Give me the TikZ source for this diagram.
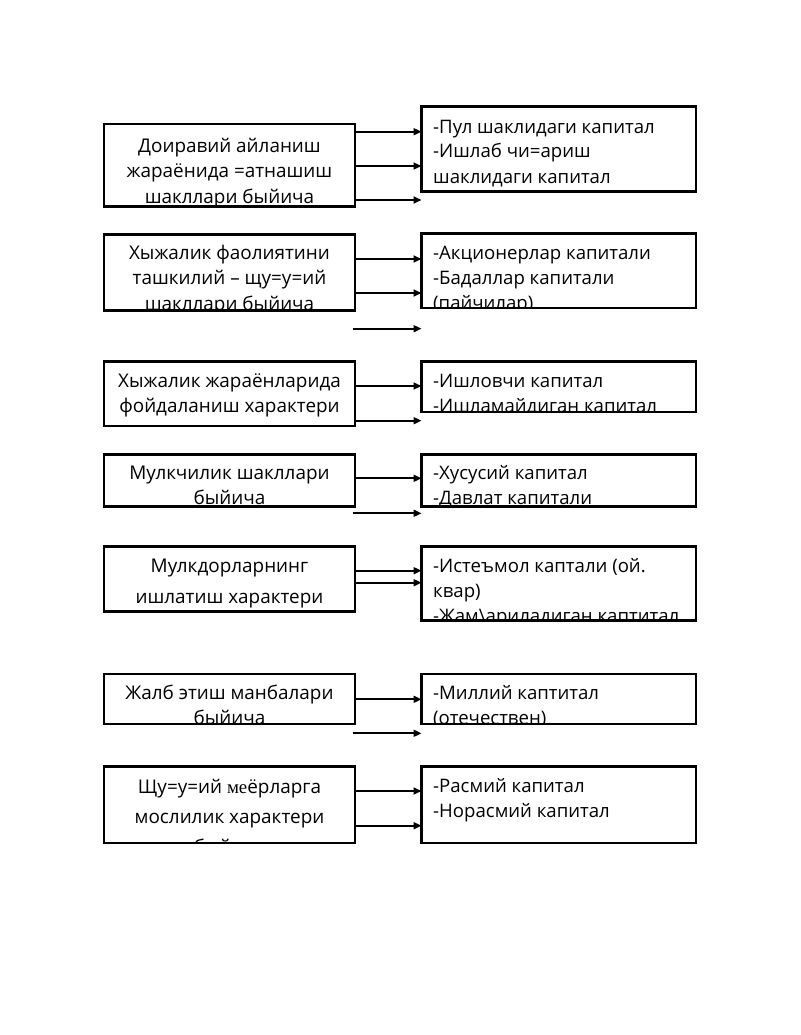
\documentclass[tikz,border=0pt]{standalone}
\usepackage{fontspec}
\setmainfont{Open Sans}
\newfontfamily\serifpart{Liberation Serif}
\usetikzlibrary{arrows.meta}
\tikzset{
  kbox/.style={draw=black, line width=2.6pt, inner sep=0pt, outer sep=0pt, anchor=north west},
  % texts are placed at the baseline of their last line
  ltext/.style={anchor=base, align=center, inner sep=0pt, font=\fontsize{18.9}{25.5}\selectfont},
  rtext/.style={anchor=base west, align=left, inner sep=0pt, font=\fontsize{18.6}{25}\selectfont},
  arr/.style={line width=1.8pt, -{Triangle[length=8pt,width=7pt]}},
}
\begin{document}
\begin{tikzpicture}[x=1pt,y=-1pt]
\useasboundingbox (0,0) rectangle (800,1035);
% block 1
\node [kbox, minimum width=251, minimum height=82.7] (l1) at (104,124) {};
\node [kbox, minimum width=274.5, minimum height=85] (r1) at (421.5,106.7) {};
\begin{scope}
\clip (l1.north west) rectangle (l1.south east);
\node [ltext] (l1t) at (229.5,203) {Доиравий айланиш\\жараёнида =атнашиш\\шакллари быйича};
\end{scope}
\begin{scope}
\clip (r1.north west) rectangle (r1.south east);
\node [rtext] (r1t) at (433,183) {-Пул шаклидаги капитал\\-Ишлаб чи=ариш\\шаклидаги капитал};
\end{scope}
\coordinate (e1) at (r1.west |- 0,200);
\draw [arr] (l1.east |- 0,131.7) -- (r1.west |- 0,131.7);
\draw [arr] (l1.east |- 0,166) -- (r1.west |- 0,166);
\draw [arr] (l1.east |- e1) -- (e1);
% block 2
\node [kbox, minimum width=251, minimum height=76.4] (l2) at (104,234.3) {};
\node [kbox, minimum width=274.5, minimum height=74.7] (r2) at (421.5,233.3) {};
\begin{scope}
\clip (l2.north west) rectangle (l2.south east);
\node [ltext] (l2t) at (229.5,310) {Хыжалик фаолиятини\\ташкилий – щу=у=ий\\шакллари быйича};
\end{scope}
\begin{scope}
\clip (r2.north west) rectangle (r2.south east);
\node [rtext] (r2t) at (433,309) {-Акционерлар капитали\\-Бадаллар капитали\\(пайчилар)};
\end{scope}
\coordinate (s2) at (352.7,328.7);
\coordinate (e2) at (r2.west |- s2);
\draw [arr] (l2.east |- 0,259) -- (r2.west |- 0,259);
\draw [arr] (l2.east |- 0,293) -- (r2.west |- 0,293);
\draw [arr] (s2) -- (e2);
% block 3
\node [kbox, minimum width=251, minimum height=64.3] (l3) at (104,361.7) {};
\node [kbox, minimum width=274.5, minimum height=50.3] (r3) at (421.5,361.7) {};
\begin{scope}
\clip (l3.north west) rectangle (l3.south east);
\node [ltext] (l3t) at (229.5,412.5) {Хыжалик жараёнларида\\фойдаланиш характери};
\end{scope}
\begin{scope}
\clip (r3.north west) rectangle (r3.south east);
\node [rtext] (r3t) at (433,412) {-Ишловчи капитал\\-Ишламайдиган капитал};
\end{scope}
\coordinate (e3) at (r3.west |- 0,420.7);
\draw [arr] (l3.east |- 0,386) -- (r3.west |- 0,386);
\draw [arr] (l3.east |- e3) -- (e3);
% block 4
\node [kbox, minimum width=251, minimum height=52.4] (l4) at (104,454.3) {};
\node [kbox, minimum width=274.5, minimum height=52.4] (r4) at (421.5,454.3) {};
\begin{scope}
\clip (l4.north west) rectangle (l4.south east);
\node [ltext] (l4t) at (229.5,504.5) {Мулкчилик шакллари\\быйича};
\end{scope}
\begin{scope}
\clip (r4.north west) rectangle (r4.south east);
\node [rtext] (r4t) at (433,504) {-Хусусий капитал\\-Давлат капитали};
\end{scope}
\coordinate (s4) at (352.7,513.3);
\coordinate (e4) at (r4.west |- s4);
\draw [arr] (l4.east |- 0,478.3) -- (r4.west |- 0,478.3);
\draw [arr] (s4) -- (e4);
% block 5
\node [kbox, minimum width=251, minimum height=65] (l5) at (104,546.7) {};
\node [kbox, minimum width=274.5, minimum height=74] (r5) at (421.5,546.7) {};
\begin{scope}
\clip (l5.north west) rectangle (l5.south east);
\node [ltext] (l5t) at (229.5,603) {Мулкдорларнинг\\[5.5pt]ишлатиш характери};
\end{scope}
\begin{scope}
\clip (r5.north west) rectangle (r5.south east);
\node [rtext] (r5t) at (433,622) {-Истеъмол каптали (ой.\\квар)\\-Жам\textbackslash ариладиган каптитал};
\end{scope}
\draw [arr] (l5.east |- 0,570.7) -- (r5.west |- 0,570.7);
\draw [arr] (l5.east |- 0,582.7) -- (r5.west |- 0,582.7);
% block 6
\node [kbox, minimum width=251, minimum height=50] (l6) at (104,674) {};
\node [kbox, minimum width=274.5, minimum height=50] (r6) at (421.5,674) {};
\begin{scope}
\clip (l6.north west) rectangle (l6.south east);
\node [ltext] (l6t) at (229.5,724.5) {Жалб этиш манбалари\\быйича};
\end{scope}
\begin{scope}
\clip (r6.north west) rectangle (r6.south east);
\node [rtext] (r6t) at (433,724) {-Миллий каптитал\\(отечествен)};
\end{scope}
\coordinate (s6) at (352.7,733.3);
\coordinate (e6) at (r6.west |- s6);
\draw [arr] (l6.east |- 0,699.3) -- (r6.west |- 0,699.3);
\draw [arr] (s6) -- (e6);
% block 7
\node [kbox, minimum width=251, minimum height=76.7] (l7) at (104,766.3) {};
\node [kbox, minimum width=274.5, minimum height=76.7] (r7) at (421.5,766.3) {};
\begin{scope}
\clip (l7.north west) rectangle (l7.south east);
\node [ltext] (l7t) at (229.5,853) {Щу=у=ий {\serifpart ме}ёрларга\\[4.5pt]мослилик характери\\[4.5pt]быйича};
\end{scope}
\begin{scope}
\clip (r7.north west) rectangle (r7.south east);
\node [rtext] (r7t) at (433,817) {-Расмий капитал\\-Норасмий капитал};
\end{scope}
\draw [arr] (l7.east |- 0,791) -- (r7.west |- 0,791);
\draw [arr] (l7.east |- 0,825.7) -- (r7.west |- 0,825.7);
\end{tikzpicture}
\end{document}
